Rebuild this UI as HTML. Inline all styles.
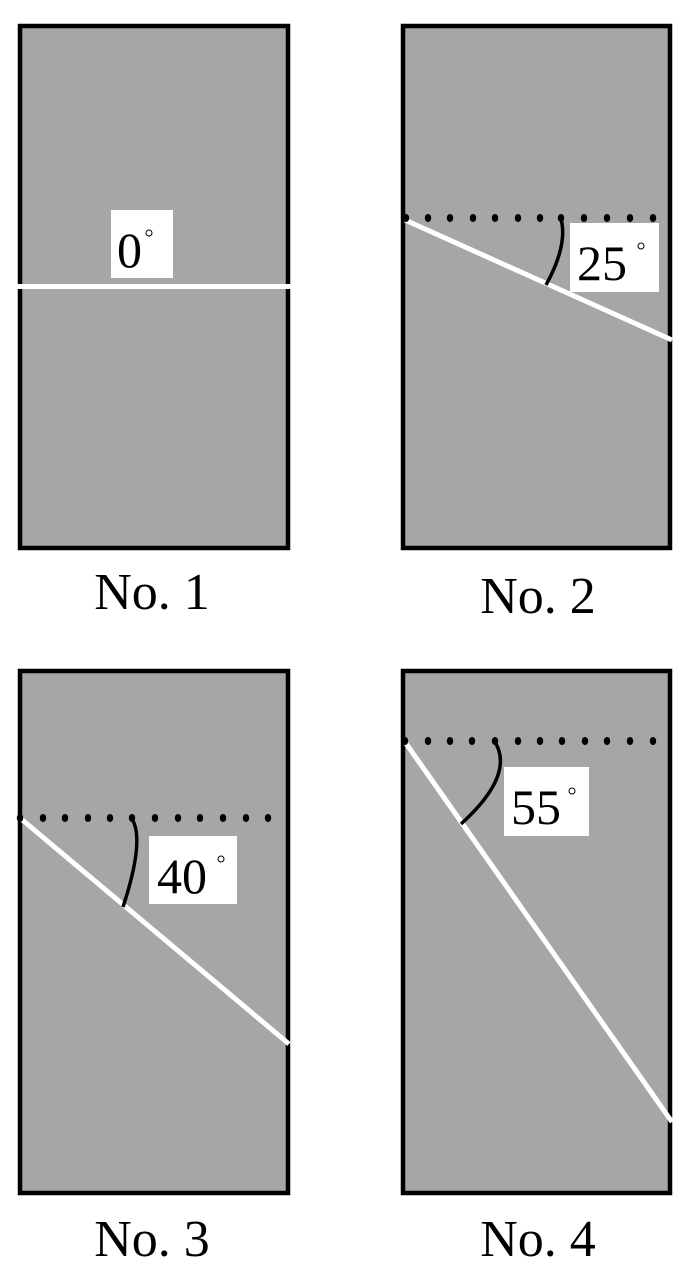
<!DOCTYPE html>
<html><head><meta charset="utf-8"><style>html,body{margin:0;padding:0;background:#fff}svg{display:block}text{font-family:"Liberation Serif","Times New Roman",serif}</style></head>
<body>
<svg width="688" height="1280" viewBox="0 0 688 1280" xmlns="http://www.w3.org/2000/svg">
<g stroke="#000" stroke-width="4.5" fill="#a6a6a6">
<rect x="20" y="26" width="268" height="522"/>
<rect x="403" y="26" width="267" height="522"/>
<rect x="20" y="671" width="268" height="522"/>
<rect x="403" y="671" width="267" height="522"/>
</g>
<!-- panel 1 -->
<line x1="16" y1="286.5" x2="292" y2="286.5" stroke="#fff" stroke-width="5"/>
<rect x="111" y="210" width="62" height="68" fill="#fff"/>
<text x="117" y="267" font-size="50">0</text>
<circle cx="149" cy="233" r="3" fill="none" stroke="#000" stroke-width="1"/>
<!-- panel 2 -->
<line x1="405" y1="220" x2="672" y2="340" stroke="#fff" stroke-width="5"/>
<g fill="#000"><ellipse cx="406" cy="218" rx="3.2" ry="4"/><ellipse cx="428" cy="218" rx="3.2" ry="4"/><ellipse cx="450" cy="218" rx="3.2" ry="4"/><ellipse cx="473" cy="218" rx="3.2" ry="4"/><ellipse cx="495" cy="218" rx="3.2" ry="4"/><ellipse cx="518" cy="218" rx="3.2" ry="4"/><ellipse cx="540" cy="218" rx="3.2" ry="4"/><ellipse cx="561" cy="218" rx="3.2" ry="4"/><ellipse cx="584" cy="218" rx="3.2" ry="4"/><ellipse cx="607" cy="218" rx="3.2" ry="4"/><ellipse cx="630" cy="218" rx="3.2" ry="4"/><ellipse cx="653" cy="218" rx="3.2" ry="4"/></g>
<path d="M561 219 Q568 245 546 285" fill="none" stroke="#000" stroke-width="3.5"/>
<rect x="570" y="223" width="89" height="69" fill="#fff"/>
<text x="577" y="280" font-size="50">25</text>
<circle cx="641" cy="246" r="3" fill="none" stroke="#000" stroke-width="1"/>
<!-- panel 3 -->
<line x1="20" y1="818" x2="289" y2="1044" stroke="#fff" stroke-width="5"/>
<g fill="#000"><ellipse cx="20" cy="818" rx="3.2" ry="4"/><ellipse cx="43" cy="818" rx="3.2" ry="4"/><ellipse cx="65" cy="818" rx="3.2" ry="4"/><ellipse cx="88" cy="818" rx="3.2" ry="4"/><ellipse cx="110" cy="818" rx="3.2" ry="4"/><ellipse cx="132" cy="818" rx="3.2" ry="4"/><ellipse cx="155" cy="818" rx="3.2" ry="4"/><ellipse cx="178" cy="818" rx="3.2" ry="4"/><ellipse cx="200" cy="818" rx="3.2" ry="4"/><ellipse cx="223" cy="818" rx="3.2" ry="4"/><ellipse cx="246" cy="818" rx="3.2" ry="4"/><ellipse cx="268" cy="818" rx="3.2" ry="4"/></g>
<path d="M132 819 Q145 840 123 907" fill="none" stroke="#000" stroke-width="3.5"/>
<rect x="149" y="836" width="88" height="68" fill="#fff"/>
<text x="157" y="893" font-size="50">40</text>
<circle cx="221" cy="859" r="3" fill="none" stroke="#000" stroke-width="1"/>
<!-- panel 4 -->
<line x1="405" y1="742" x2="672" y2="1122" stroke="#fff" stroke-width="5"/>
<g fill="#000"><ellipse cx="405" cy="741" rx="3.2" ry="4"/><ellipse cx="428" cy="741" rx="3.2" ry="4"/><ellipse cx="450" cy="741" rx="3.2" ry="4"/><ellipse cx="472" cy="741" rx="3.2" ry="4"/><ellipse cx="495" cy="741" rx="3.2" ry="4"/><ellipse cx="518" cy="741" rx="3.2" ry="4"/><ellipse cx="540" cy="741" rx="3.2" ry="4"/><ellipse cx="562" cy="741" rx="3.2" ry="4"/><ellipse cx="585" cy="741" rx="3.2" ry="4"/><ellipse cx="607" cy="741" rx="3.2" ry="4"/><ellipse cx="630" cy="741" rx="3.2" ry="4"/><ellipse cx="653" cy="741" rx="3.2" ry="4"/></g>
<path d="M495 742 Q515 775 461 824" fill="none" stroke="#000" stroke-width="3.5"/>
<rect x="504" y="767" width="85" height="69" fill="#fff"/>
<text x="511" y="824" font-size="50">55</text>
<circle cx="572" cy="791" r="3" fill="none" stroke="#000" stroke-width="1"/>
<g font-size="52" text-anchor="middle" fill="#000">
<text x="152" y="609">No. 1</text>
<text x="538" y="613">No. 2</text>
<text x="152" y="1256">No. 3</text>
<text x="538" y="1256">No. 4</text>
</g>
</svg>
</body></html>
